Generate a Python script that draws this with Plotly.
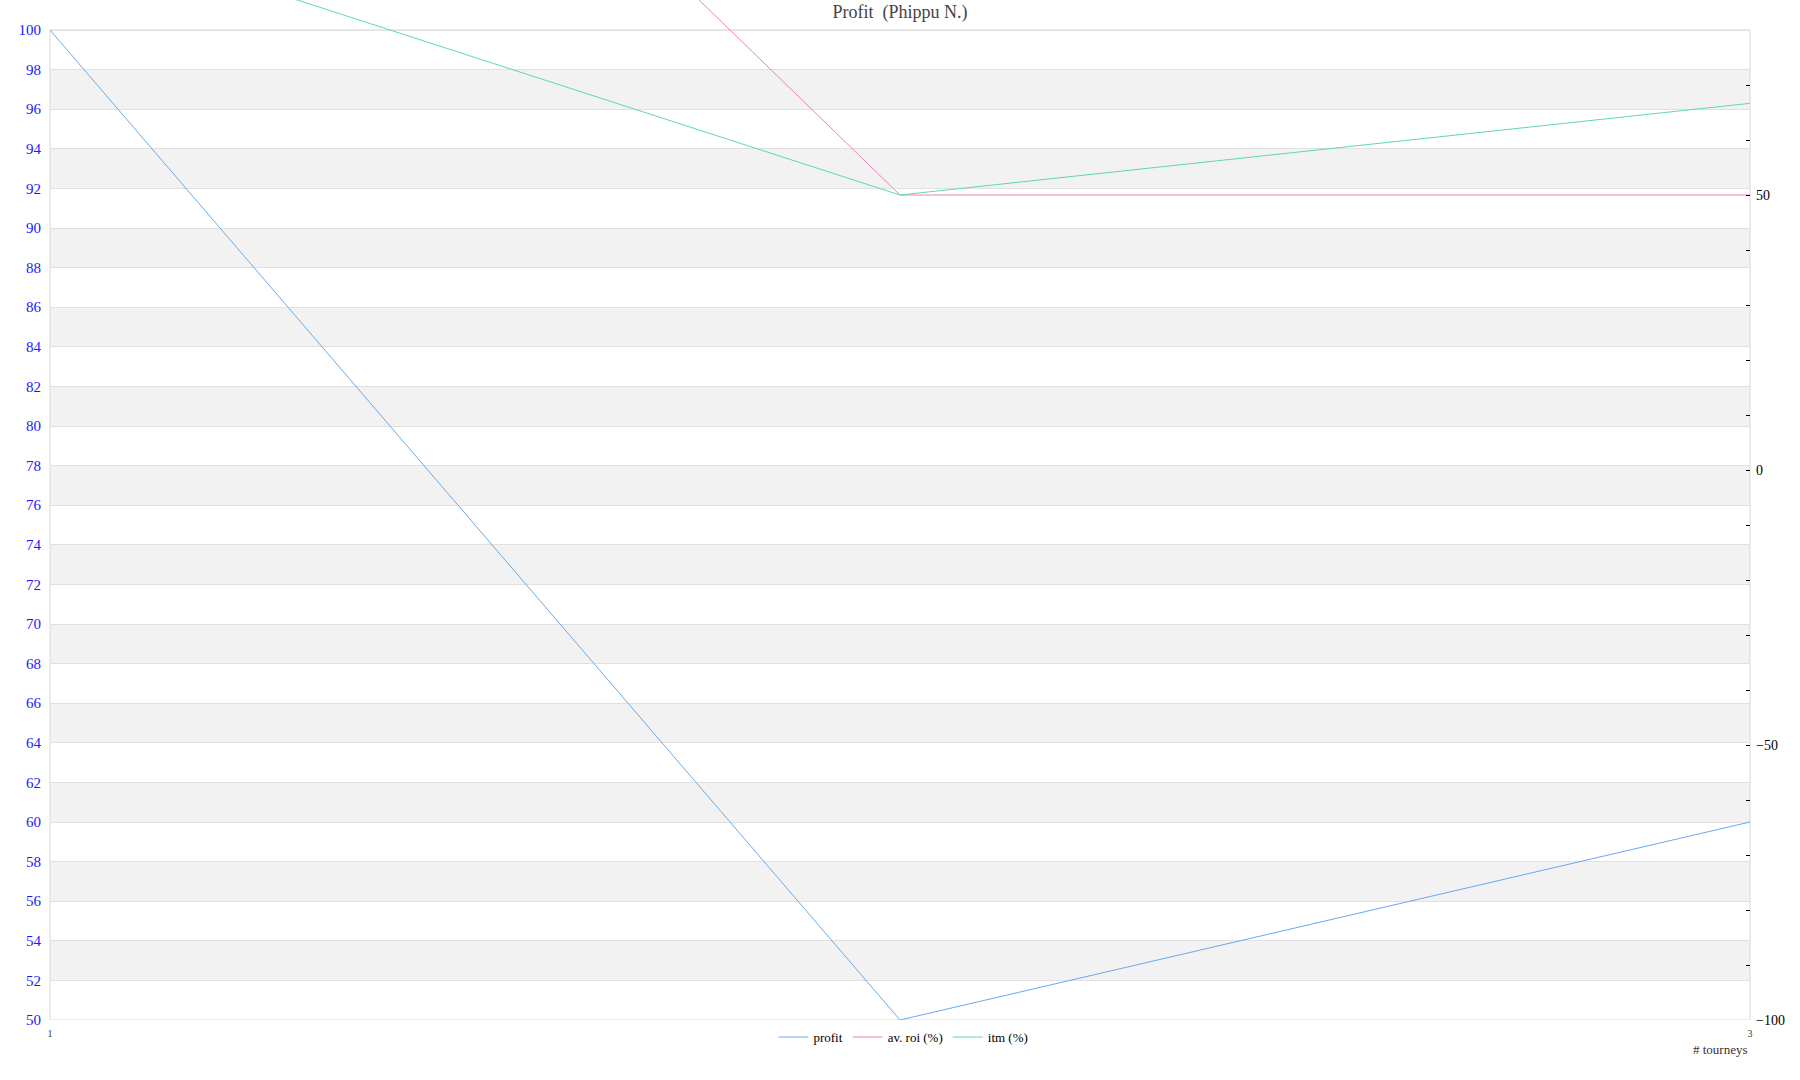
import plotly.graph_objects as go

tourneys = [1, 2, 3]
profit = [100, 50, 60]
av_roi = [200, 50, 50]
itm = [100, 50, 66.67]

left_ticks = list(range(50, 101, 2))
right_label_ticks = [-100, -50, 0, 50]

BLUE = "#66aaf0"
PINK = "#f080b8"
TEAL = "#5fdc9e"
BORDER = "#d8d8d8"
FONT = "Liberation Serif"

# plot box: 30px..1020px of a 1080px page; the data area extends up to the page top
# so the lines can run past the box like in the reference
L_MIN, L_MAX = 50, 100
R_MIN, R_MAX = -100, 80
box_px = 990.0
top_px = 30.0
l_top = L_MAX + top_px * (L_MAX - L_MIN) / box_px
r_top = R_MAX + top_px * (R_MAX - R_MIN) / box_px

fig = go.Figure()
fig.add_trace(go.Scatter(x=tourneys, y=profit, name="profit", mode="lines",
                         line=dict(color=BLUE, width=1), yaxis="y"))
fig.add_trace(go.Scatter(x=tourneys, y=av_roi, name="av. roi (%)", mode="lines",
                         line=dict(color=PINK, width=1), yaxis="y2"))
fig.add_trace(go.Scatter(x=tourneys, y=itm, name="itm (%)", mode="lines",
                         line=dict(color=TEAL, width=1), yaxis="y2"))

shapes = []
for i, lo in enumerate(left_ticks[:-1]):
    if i % 2 == 1:
        shapes.append(dict(type="rect", xref="paper", yref="y", x0=0, x1=1,
                           y0=lo, y1=lo + 2, fillcolor="#f2f2f2",
                           line=dict(width=0), layer="below"))
shapes.append(dict(type="rect", xref="paper", yref="y", x0=0, x1=1,
                   y0=L_MIN, y1=L_MAX, fillcolor="rgba(0,0,0,0)",
                   line=dict(width=1, color=BORDER), layer="below"))

fig.update_layout(
    width=1800, height=1080,
    margin=dict(l=50, r=50, t=0, b=60),
    paper_bgcolor="white", plot_bgcolor="white",
    font=dict(family=FONT, color="#333333"),
    title=dict(text="Profit  (Phippu N.)", x=0.5, xanchor="center",
               y=0.989, yanchor="middle",
               font=dict(family=FONT, size=18, color="#444444")),
    shapes=shapes,
    showlegend=True,
    legend=dict(orientation="h", x=0.502, xanchor="center", y=-0.002, yanchor="top",
                font=dict(family=FONT, size=13, color="#000000"),
                itemwidth=30, bgcolor="rgba(0,0,0,0)"),
    xaxis=dict(range=[1, 3], tickvals=[1, 3], ticktext=["1", "3"],
               showgrid=False, zeroline=False, showline=False,
               ticks="", tickfont=dict(size=10, color="#333333"),
               ticklabelstandoff=6),
    yaxis=dict(range=[L_MIN, l_top], tickvals=left_ticks, showgrid=True,
               gridcolor="#e0e0e0", gridwidth=1, zeroline=False, showline=False,
               ticks="", tickfont=dict(size=15, color="#1a1aff"),
               ticklabelstandoff=8),
    yaxis2=dict(range=[R_MIN, r_top], overlaying="y", side="right",
                tickvals=right_label_ticks,
                showgrid=False, zeroline=False, showline=False,
                ticks="inside", ticklen=4, tickcolor="#000000",
                minor=dict(tickvals=list(range(-90, 80, 10)), ticks="inside",
                           ticklen=4, tickcolor="#000000"),
                tickfont=dict(size=14, color="#000000"), ticklabelstandoff=5),
    annotations=[dict(text="# tourneys", xref="paper", yref="paper", x=1, y=-0.02,
                      xanchor="right", yanchor="top", showarrow=False,
                      font=dict(family=FONT, size=13, color="#333333"))],
)

fig.write_html("out.html", config={"displayModeBar": False},
               post_script="document.body.style.margin='0';")
